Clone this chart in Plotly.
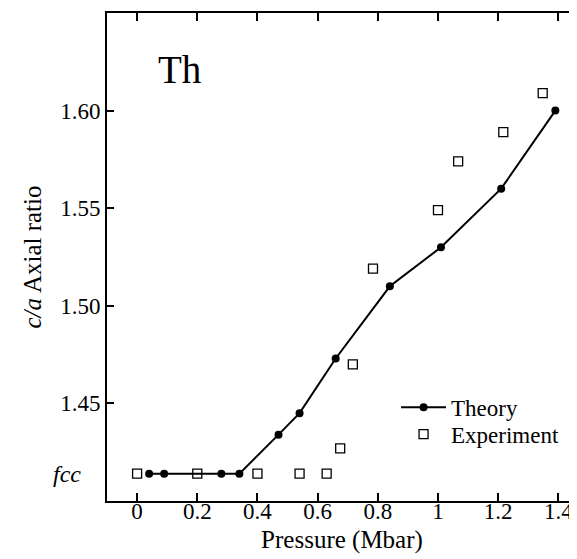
import plotly.graph_objects as go

# Data
fcc_ratio = 1.414
theory_p = [0.04, 0.09, 0.28, 0.34, 0.47, 0.54, 0.66, 0.84, 1.01, 1.21, 1.39]
theory_ca = [1.414, 1.414, 1.414, 1.414, 1.434, 1.445, 1.473, 1.510, 1.530, 1.560, 1.600]
exp_p = [0.0, 0.2, 0.40, 0.54, 0.63, 0.675, 0.717, 0.784, 1.0, 1.067, 1.217, 1.348]
exp_ca = [1.414, 1.414, 1.414, 1.414, 1.414, 1.427, 1.470, 1.519, 1.549, 1.574, 1.589, 1.609]
x_ticks = [0, 0.2, 0.4, 0.6, 0.8, 1.0, 1.2, 1.4]
x_ticktext = ["0", "0.2", "0.4", "0.6", "0.8", "1", "1.2", "1.4"]
y_ticks = [1.45, 1.50, 1.55, 1.60]
y_ticktext = ["1.45", "1.50", "1.55", "1.60"]

FONT = "Liberation Serif, Times New Roman, serif"

fig = go.Figure()
fig.add_trace(go.Scatter(
    x=theory_p, y=theory_ca, mode="lines+markers", name="Theory",
    line=dict(color="black", width=2),
    marker=dict(symbol="circle", size=8, color="black"),
    legend="legend", showlegend=True,
))
fig.add_trace(go.Scatter(
    x=exp_p, y=exp_ca, mode="markers", name="Experiment",
    marker=dict(symbol="square-open", size=9, color="black", line=dict(width=1.3)),
    legend="legend2", showlegend=True,
))

fig.add_annotation(x=0.141, y=1.621, xref="x", yref="y", text="Th", showarrow=False,
                   font=dict(family=FONT, size=39, color="black"))
fig.add_annotation(x=-0.051, y=fcc_ratio, xref="paper", yref="y", text="<i>fcc</i>",
                   showarrow=False, xanchor="right",
                   font=dict(family=FONT, size=24, color="black"))

# page body has an 8px margin, so the figure is made 8px smaller and margins shifted
fig.update_layout(
    width=569, height=551,
    margin=dict(l=99, r=0, t=5, b=58),
    paper_bgcolor="white", plot_bgcolor="white",
    showlegend=True,
    font=dict(family=FONT, size=23, color="black"),
    legend=dict(x=0.615, y=0.192, xanchor="left", yanchor="middle",
                bgcolor="rgba(0,0,0,0)", font=dict(size=23), itemwidth=45),
    legend2=dict(x=0.615, y=0.137, xanchor="left", yanchor="middle",
                 bgcolor="rgba(0,0,0,0)", font=dict(size=23), itemwidth=45),
    xaxis=dict(range=[-0.1, 1.462], tickvals=x_ticks, ticktext=x_ticktext,
               ticks="inside", ticklen=8, tickwidth=2, tickcolor="black",
               showline=True, linewidth=2, linecolor="black", mirror="ticks",
               showgrid=False, zeroline=False, ticklabelstandoff=-12,
               title=dict(text="Pressure (Mbar)", font=dict(size=25), standoff=8),
               tickfont=dict(size=23)),
    yaxis=dict(range=[1.40, 1.65], tickvals=y_ticks, ticktext=y_ticktext,
               ticks="inside", ticklen=7, tickwidth=2, tickcolor="black",
               showline=True, linewidth=2, linecolor="black",
               showgrid=False, zeroline=False,
               title=dict(text="<i>c/a</i> Axial ratio", font=dict(size=25), standoff=11),
               tickfont=dict(size=23)),
)

fig.write_html("out.html")
